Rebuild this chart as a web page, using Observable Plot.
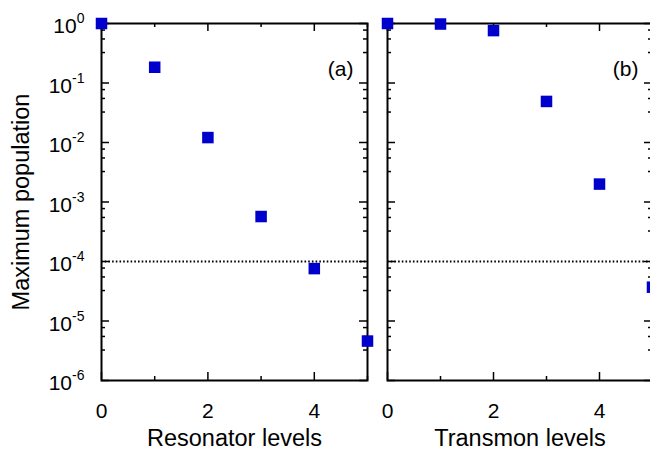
<!DOCTYPE html>
<html><head><meta charset="utf-8">
<script src="https://cdn.jsdelivr.net/npm/d3@7"></script>
<script src="https://cdn.jsdelivr.net/npm/@observablehq/plot@0.6"></script>
<style>
body{margin:0;background:#fff;}
#wrap{position:relative;width:650px;height:453px;overflow:hidden;background:#fff;}
#wrap svg{position:absolute;top:0;max-width:none;}
</style></head><body><div id="wrap"></div>
<script>
// ---- data ----
const levels = [0, 1, 2, 3, 4, 5];
const resonatorPop = [1.0, 0.184, 0.0121, 5.7e-4, 7.6e-5, 4.6e-6];
const transmonPop = [1.0, 0.98, 0.76, 0.049, 0.0020, 3.7e-5];
const panelLabels = ["(a)", "(b)"];
const xTitles = ["Resonator levels", "Transmon levels"];
const yTitle = "Maximum population";
const yMajorTicks = [1e0, 1e-1, 1e-2, 1e-3, 1e-4, 1e-5, 1e-6];
const yTickExponents = ["0", "-1", "-2", "-3", "-4", "-5", "-6"];
const minorMultipliers = [3.25, 5.5, 7.75];
const xMajorTicks = [0, 2, 4];
const xMinorTicks = [1, 3, 5];
const xTickLabels = ["0", "2", "4"];
const threshold = 1e-4;

const yMinorTicks = yMajorTicks.slice(1).flatMap(d => minorMultipliers.map(m => m * d));

function panel({values, label, xTitle, width, marginLeft, marginRight, showY}) {
  const H = 453, mt = 23, mb = 73;
  const fw = width - marginLeft - marginRight, fh = H - mt - mb;
  const data = levels.map((x, i) => ({x, y: values[i]}));
  const tk = {stroke: "black", strokeWidth: 1.5};
  const marks = [
    Plot.tickY(yMajorTicks, {y: d => d, insetRight: fw - 8, ...tk}),
    Plot.tickY(yMajorTicks, {y: d => d, insetLeft: fw - 8, ...tk}),
    Plot.tickY(yMinorTicks, {y: d => d, insetRight: fw - 4, ...tk}),
    Plot.tickY(yMinorTicks, {y: d => d, insetLeft: fw - 4, ...tk}),
    Plot.tickX(xMajorTicks, {x: d => d, insetTop: fh - 8, ...tk}),
    Plot.tickX(xMajorTicks, {x: d => d, insetBottom: fh - 8, ...tk}),
    Plot.tickX(xMinorTicks, {x: d => d, insetTop: fh - 4, ...tk}),
    Plot.tickX(xMinorTicks, {x: d => d, insetBottom: fh - 4, ...tk}),
    Plot.ruleY([threshold], {stroke: "black", strokeWidth: 2, strokeDasharray: "1.6,2.1"}),
    Plot.frame({stroke: "black", strokeWidth: 2}),
    Plot.dot(data, {x: "x", y: "y", symbol: "square", r: 6.5, fill: "#0000cc", stroke: null}),
    Plot.text(xTickLabels, {x: (d, i) => xMajorTicks[i], text: d => d, frameAnchor: "bottom", lineAnchor: "top", dy: 23, fontSize: 21}),
    Plot.text([xTitle], {text: d => d, frameAnchor: "bottom", textAnchor: "middle", dy: 65, fontSize: 23.5}),
    Plot.text([label], {text: d => d, frameAnchor: "top-right", textAnchor: "end", dx: -14, dy: 38, fontSize: 21})
  ];
  if (showY) {
    marks.push(
      Plot.text(yMajorTicks, {y: d => d, text: (d, i) => "10^" + yTickExponents[i], frameAnchor: "left", textAnchor: "end", dx: -17, dy: 3, fontSize: 21}),
      Plot.text([yTitle], {text: d => d, frameAnchor: "left", textAnchor: "middle", dx: -80, rotate: -90, fontSize: 23.5})
    );
  }
  const svg = Plot.plot({
    width, height: H,
    marginLeft, marginRight, marginTop: mt, marginBottom: mb,
    style: {fontFamily: "'Liberation Sans', Arial, sans-serif", background: "white", color: "black"},
    x: {domain: [0, 5], axis: null},
    y: {type: "log", domain: [1e-6, 1], axis: null},
    marks
  });
  svg.querySelectorAll("text").forEach(t => {
    if (!t.textContent.includes("^")) return;
    const [base, exp] = t.textContent.split("^");
    t.textContent = base;
    const ts = document.createElementNS("http://www.w3.org/2000/svg", "tspan");
    ts.setAttribute("dy", "-10");
    ts.setAttribute("font-size", "14");
    ts.textContent = exp;
    t.appendChild(ts);
  });
  return svg;
}

const wrap = document.getElementById("wrap");
const p1 = panel({values: resonatorPop, label: panelLabels[0], xTitle: xTitles[0], width: 377, marginLeft: 101, marginRight: 10, showY: true});
p1.style.left = "0px";
wrap.appendChild(p1);
const p2 = panel({values: transmonPop, label: panelLabels[1], xTitle: xTitles[1], width: 275, marginLeft: 10, marginRight: 0, showY: false});
p2.style.left = "377px";
wrap.appendChild(p2);
</script></body></html>
